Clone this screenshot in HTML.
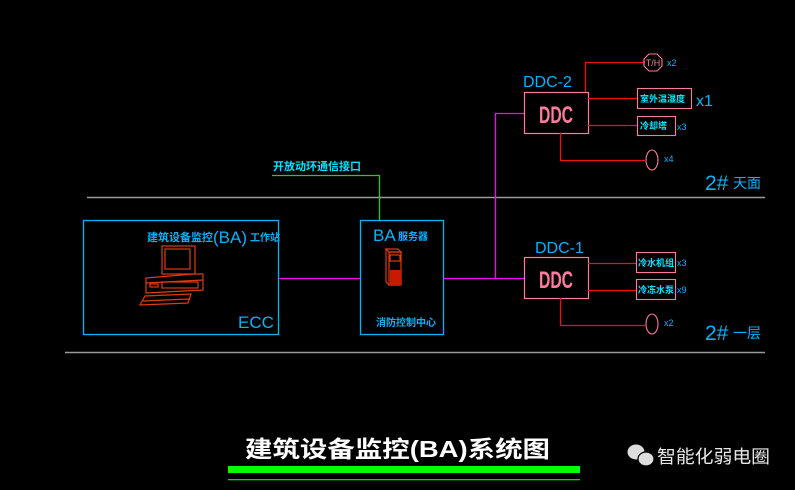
<!DOCTYPE html>
<html><head><meta charset="utf-8"><style>
html,body{margin:0;padding:0;background:#000;}
svg{display:block}
text{font-family:"Liberation Sans","Noto Sans CJK SC",sans-serif;}
</style></head><body>
<svg width="795" height="490" viewBox="0 0 795 490" xmlns="http://www.w3.org/2000/svg">
<rect width="795" height="490" fill="#000"/>
<line x1="87" y1="197.5" x2="765" y2="197.5" stroke="#9a9a9a" stroke-width="1.5"/>
<line x1="65" y1="352.5" x2="765" y2="352.5" stroke="#9a9a9a" stroke-width="1.5"/>
<rect x="83.5" y="220.5" width="195" height="114" fill="none" stroke="#00b4ff" stroke-width="1.3"/>
<rect x="360.5" y="220.5" width="83" height="114" fill="none" stroke="#00b4ff" stroke-width="1.3"/>
<g stroke="#ff00ff" stroke-width="1.3" fill="none">
<line x1="279" y1="278.5" x2="360" y2="278.5"/>
<polyline points="444,278.5 495.5,278.5 495.5,113.5 524,113.5"/>
<line x1="495.5" y1="278.5" x2="524" y2="278.5"/>
</g>
<polyline points="272,175.5 379.5,175.5 379.5,220" stroke="#22cc22" stroke-width="1.3" fill="none"/>
<text x="273" y="170" font-size="11" fill="#00e5ff" font-weight="bold">开放动环通信接口</text>
<text x="147" y="241" font-size="11" fill="#00b4ff" font-weight="bold">建筑设备监控</text>
<text x="213" y="243" font-size="17" fill="#00b4ff">(BA)</text>
<text x="250" y="241" font-size="10" fill="#00b4ff" font-weight="bold">工作站</text>
<text x="238" y="328" font-size="17" fill="#00b4ff">ECC</text>
<g stroke="#e03a10" stroke-width="1.2" fill="none">
<rect x="162" y="246" width="33" height="28"/>
<rect x="165" y="249" width="25" height="20"/>
<polygon points="146,278 193,274 203,274 203,290 146,293"/>
<line x1="146" y1="283" x2="203" y2="280"/>
<rect x="150" y="284" width="8" height="3"/>
<rect x="162" y="282" width="36" height="6"/>
<polygon points="140,305 145,296 191,294 188,303"/>
<line x1="143" y1="301" x2="189" y2="299"/>
</g>
<text x="373" y="241" font-size="17" fill="#00b4ff">BA</text>
<text x="398" y="240" font-size="10" fill="#00b4ff" font-weight="bold">服务器</text>
<g stroke="#e03a10" stroke-width="1.2" fill="none">
<polygon points="389,252 401,252 401,285 389,285"/>
<polygon points="386,249 398,249 401,252 389,252"/>
<line x1="386" y1="249" x2="386" y2="282"/><line x1="386" y1="282" x2="389" y2="285"/>
<rect x="390" y="255" width="10" height="6"/>
</g>
<rect x="390" y="270" width="11" height="15" fill="#c81a00"/>
<text x="376" y="326" font-size="10" fill="#00b4ff" font-weight="bold">消防控制中心</text>
<!-- DDC-2 -->
<text x="523" y="87" font-size="16" fill="#00b4ff">DDC-2</text>
<rect x="524.5" y="92.5" width="64" height="41" fill="none" stroke="#ff7a9c" stroke-width="1.2"/>
<text x="539" y="123" font-size="24" fill="#ff7a9c" font-weight="bold" textLength="34" lengthAdjust="spacingAndGlyphs">DDC</text>
<g stroke="#ee1111" stroke-width="1.3" fill="none">
<polyline points="585.5,92 585.5,62.5 645,62.5"/>
<line x1="588" y1="98.5" x2="637" y2="98.5"/>
<line x1="588" y1="125.5" x2="637" y2="125.5"/>
<polyline points="560.5,133 560.5,160.5 645,160.5"/>
</g>
<polygon points="649,54 657,54 662,59 662,66 657,71 649,71 644,66 644,59" fill="none" stroke="#ff7a9c" stroke-width="1.1"/>
<text x="653" y="66" font-size="9" fill="#ff7a9c" text-anchor="middle">T/H</text>
<text x="667" y="66" font-size="9" fill="#00b4ff">x2</text>
<rect x="637.5" y="88.5" width="54" height="20" fill="none" stroke="#ff7a9c" stroke-width="1.1"/>
<text x="640" y="102" font-size="9" fill="#00e5ff" font-weight="bold">室外温湿度</text>
<text x="696" y="106" font-size="16" fill="#00b4ff">x1</text>
<rect x="637.5" y="116.5" width="38" height="19" fill="none" stroke="#ff7a9c" stroke-width="1.1"/>
<text x="640" y="129" font-size="9" fill="#00e5ff" font-weight="bold">冷却塔</text>
<text x="677" y="130" font-size="9" fill="#00b4ff">x3</text>
<ellipse cx="652" cy="160" rx="6" ry="10" fill="none" stroke="#ff7a9c" stroke-width="1.1"/>
<text x="664" y="162" font-size="9" fill="#00b4ff">x4</text>
<text x="705" y="190" font-size="21" fill="#00b4ff">2#</text>
<text x="733" y="188" font-size="14" fill="#00b4ff">天面</text>
<!-- DDC-1 -->
<text x="535" y="253" font-size="16" fill="#00b4ff">DDC-1</text>
<rect x="524.5" y="257.5" width="64" height="41" fill="none" stroke="#ff7a9c" stroke-width="1.2"/>
<text x="539" y="288" font-size="24" fill="#ff7a9c" font-weight="bold" textLength="34" lengthAdjust="spacingAndGlyphs">DDC</text>
<g stroke="#ee1111" stroke-width="1.3" fill="none">
<line x1="588" y1="263.5" x2="636" y2="263.5"/>
<line x1="588" y1="290.5" x2="636" y2="290.5"/>
<polyline points="560.5,298 560.5,325.5 645,325.5"/>
</g>
<rect x="636.5" y="252.5" width="39" height="20" fill="none" stroke="#ff7a9c" stroke-width="1.1"/>
<text x="638" y="266" font-size="9" fill="#00e5ff" font-weight="bold">冷水机组</text>
<text x="677" y="266" font-size="9" fill="#00b4ff">x3</text>
<rect x="636.5" y="279.5" width="39" height="20" fill="none" stroke="#ff7a9c" stroke-width="1.1"/>
<text x="638" y="293" font-size="9" fill="#00e5ff" font-weight="bold">冷冻水泵</text>
<text x="677" y="293" font-size="9" fill="#00b4ff">x9</text>
<ellipse cx="652" cy="324" rx="6" ry="10" fill="none" stroke="#ff7a9c" stroke-width="1.1"/>
<text x="664" y="326" font-size="9" fill="#00b4ff">x2</text>
<text x="705" y="340" font-size="21" fill="#00b4ff">2#</text>
<text x="733" y="338" font-size="14" fill="#00b4ff">一层</text>
<!-- title -->
<text x="245" y="457" font-size="23" fill="#fff" font-weight="bold" textLength="305" lengthAdjust="spacingAndGlyphs">建筑设备监控(BA)系统图</text>
<rect x="228" y="466" width="352" height="7" fill="#00ff00"/>
<rect x="228" y="479" width="352" height="1.3" fill="#00dd00"/>
<ellipse cx="636" cy="452" rx="8.5" ry="7.5" fill="#ddd"/>
<ellipse cx="646" cy="459" rx="8" ry="7" fill="#ddd" stroke="#000" stroke-width="1.2"/>
<text x="657" y="463" font-size="18" fill="#e8e8e8" textLength="113" lengthAdjust="spacingAndGlyphs">智能化弱电圈</text>
</svg>
</body></html>
